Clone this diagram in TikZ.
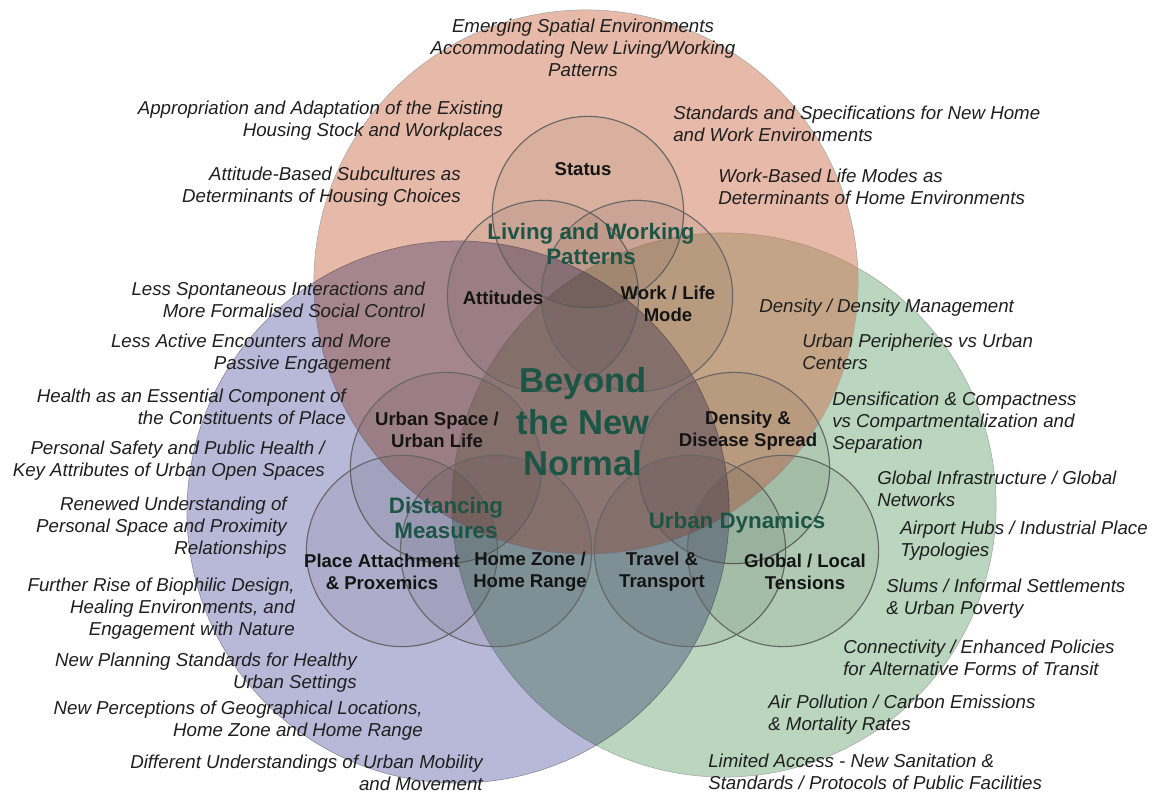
\documentclass[tikz,border=0pt]{standalone}
\usepackage{fontspec}
\setmainfont{Liberation Sans}
\usepackage{xcolor}
\usepackage{tikz}

\definecolor{livingfill}{RGB}{206,116,82}
\definecolor{distancingfill}{RGB}{184,184,216}
\definecolor{dynamicsfill}{RGB}{186,214,190}
\definecolor{themegreen}{RGB}{28,84,70}

\tikzset{
    bigset/.style={draw=black!35, line width=0.4pt},
    subset/.style={draw=black!60, line width=0.8pt, fill=black, fill opacity=0.06},
    itemtext/.style={font=\fontsize{13.3}{15.6}\selectfont\itshape, text=black!88, inner sep=0pt},
    lefttext/.style={itemtext, align=right, anchor=east},
    righttext/.style={itemtext, align=left, anchor=west},
    subtext/.style={font=\fontsize{13.2}{15.6}\selectfont\bfseries, text=black!92, align=center, inner sep=0pt},
    themetext/.style={font=\fontsize{15.9}{17.8}\selectfont\bfseries, text=themegreen, align=center, inner sep=0pt},
    coretext/.style={font=\fontsize{24.6}{29.5}\selectfont\bfseries, text=themegreen, align=center, inner sep=0pt}
}

\begin{document}
\begin{tikzpicture}[x=0.025cm, y=-0.025cm]
    \useasboundingbox (0,0) rectangle (1157,793);

    \draw [bigset, fill=dynamicsfill] (724,505) circle [radius=6.8cm];
    \draw [bigset, fill=livingfill, fill opacity=0.5] (586,282) circle [radius=6.8cm];
    \draw [bigset, fill=distancingfill, blend mode=multiply] (458,512) circle [radius=6.775cm];

    \draw [subset] (588,212) circle [radius=2.39cm];
    \draw [subset] (543,296) circle [radius=2.39cm];
    \draw [subset] (637,296) circle [radius=2.39cm];
    \draw [subset] (446,468) circle [radius=2.39cm];
    \draw [subset] (402,551) circle [radius=2.39cm];
    \draw [subset] (496,551) circle [radius=2.39cm];
    \draw [subset] (734,468) circle [radius=2.39cm];
    \draw [subset] (690,551) circle [radius=2.39cm];
    \draw [subset] (783,551) circle [radius=2.39cm];

    \node [coretext] (core) at (583,422) {Beyond\\the New\\Normal};
    \node [themetext] (living) at (591,244) {Living and Working\\Patterns};
    \node [themetext] (distancing) at (446,518) {Distancing\\Measures};
    \node [themetext] (dynamics) at (737,523) {Urban Dynamics};

    \node [subtext] (status) at (583,169) {Status};
    \node [subtext] (attitudes) at (503,298) {Attitudes};
    \node [subtext] (worklife) at (668,304) {Work / Life\\Mode};
    \node [subtext] (urbanspace) at (437,430) {Urban Space /\\Urban Life};
    \node [subtext] (density) at (748,431) {Density \&\\Disease Spread};
    \node [subtext] (place) at (382,572) {Place Attachment\\\& Proxemics};
    \node [subtext] (homezone) at (530,572) {Home Zone /\\Home Range};
    \node [subtext] (travel) at (662,572) {Travel \&\\Transport};
    \node [subtext] (global) at (805,572) {Global / Local\\Tensions};

    \node [itemtext, align=center] (emerging) at (583,48) {Emerging Spatial Environments\\Accommodating New Living/Working\\Patterns};

    \node [lefttext] (appropriation) at (503,121) {Appropriation and Adaptation of the Existing\\Housing Stock and Workplaces};
    \node [lefttext] (subcultures) at (461,187) {Attitude-Based Subcultures as\\Determinants of Housing Choices};
    \node [lefttext] (spontaneous) at (425,300) {Less Spontaneous Interactions and\\More Formalised Social Control};
    \node [lefttext] (encounters) at (391,354) {Less Active Encounters and More\\Passive Engagement};
    \node [lefttext] (health) at (346,407) {Health as an Essential Component of\\the Constituents of Place};
    \node [lefttext] (safety) at (325,461) {Personal Safety and Public Health /\\Key Attributes of Urban Open Spaces};
    \node [lefttext] (personalspace) at (287,528) {Renewed Understanding of\\Personal Space and Proximity\\Relationships};
    \node [lefttext] (biophilic) at (295,609) {Further Rise of Biophilic Design,\\Healing Environments, and\\Engagement with Nature};
    \node [lefttext] (planning) at (357,673) {New Planning Standards for Healthy\\Urban Settings};
    \node [lefttext] (perceptions) at (423,721) {New Perceptions of Geographical Locations,\\Home Zone and Home Range};
    \node [lefttext] (mobility) at (483,773) {Different Understandings of Urban Mobility\\and Movement};

    \node [righttext] (specifications) at (673,124) {Standards and Specifications for New Home\\and Work Environments};
    \node [righttext] (lifemodes) at (718,187) {Work-Based Life Modes as\\Determinants of Home Environments};
    \node [righttext] (densitymgmt) at (759,308) {Density / Density Management};
    \node [righttext] (peripheries) at (802,352) {Urban Peripheries vs Urban\\Centers};
    \node [righttext] (densification) at (832,423) {Densification \& Compactness\\vs Compartmentalization and\\Separation};
    \node [righttext] (infrastructure) at (877,489) {Global Infrastructure / Global\\Networks};
    \node [righttext] (airport) at (900,541) {Airport Hubs / Industrial Place\\Typologies};
    \node [righttext] (slums) at (886,599) {Slums / Informal Settlements\\\& Urban Poverty};
    \node [righttext] (connectivity) at (843,658) {Connectivity / Enhanced Policies\\for Alternative Forms of Transit};
    \node [righttext] (pollution) at (768,715) {Air Pollution / Carbon Emissions\\\& Mortality Rates};
    \node [righttext] (access) at (708,772) {Limited Access - New Sanitation \&\\Standards / Protocols of Public Facilities};
\end{tikzpicture}
\end{document}
